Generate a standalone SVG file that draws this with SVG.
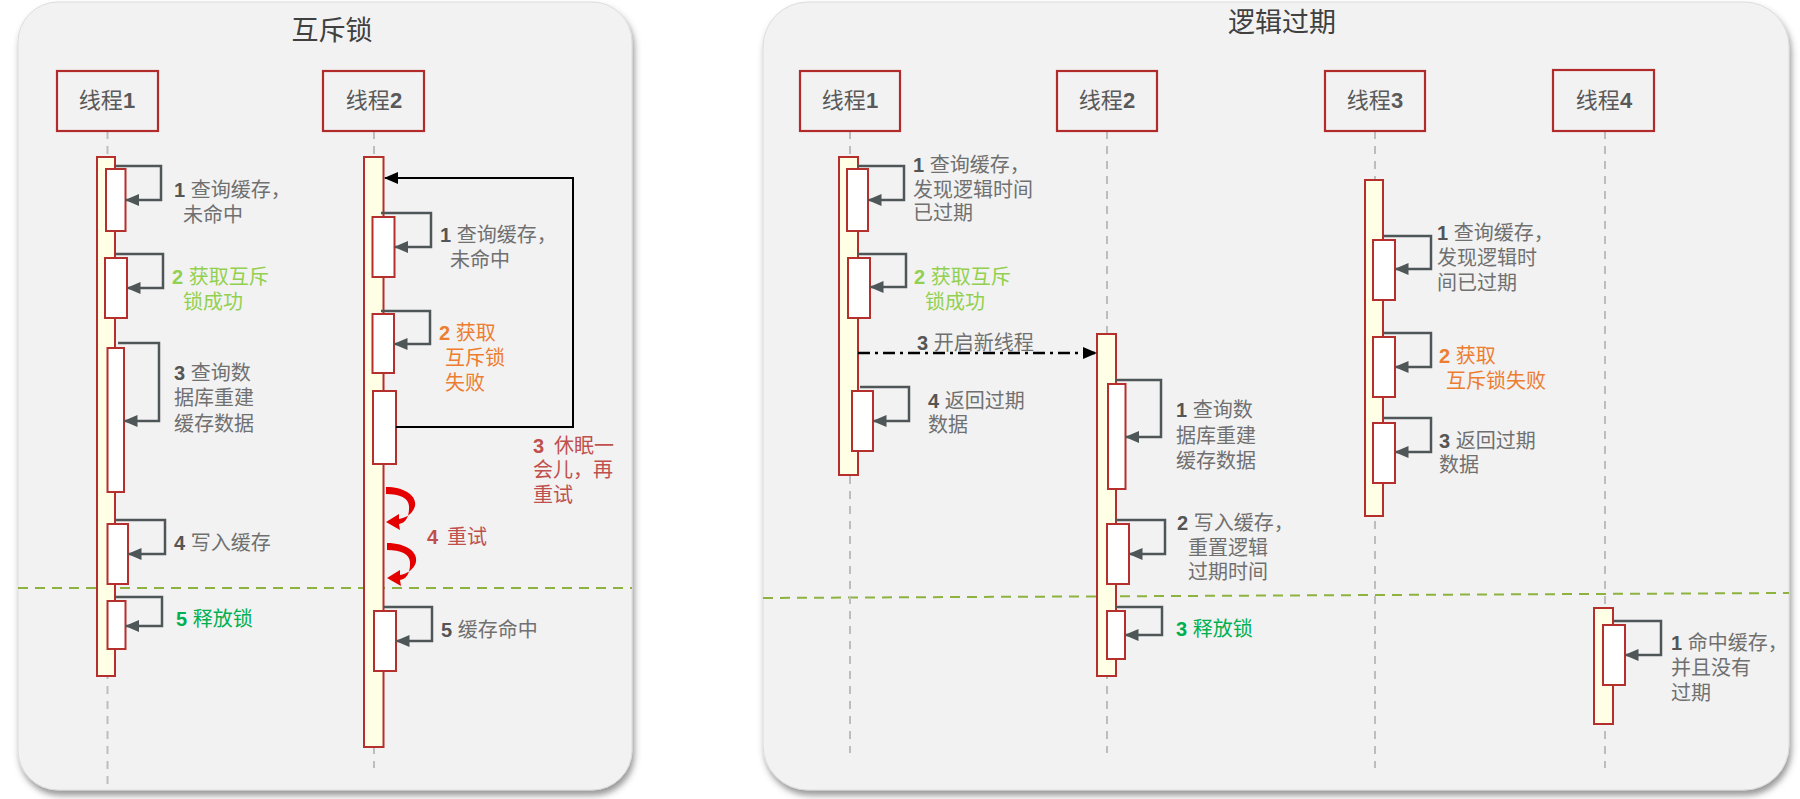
<svg xmlns="http://www.w3.org/2000/svg" width="1800" height="799" viewBox="0 0 1800 799">
<defs>
<filter id="sh" x="-5%" y="-5%" width="110%" height="110%">
<feDropShadow dx="2" dy="5" stdDeviation="3" flood-color="#444" flood-opacity="0.55"/>
</filter>
<marker id="ah" viewBox="0 0 14 14" refX="13" refY="7" markerWidth="14" markerHeight="14" markerUnits="userSpaceOnUse" orient="auto">
<path d="M0,1 L14,7 L0,13 z" fill="#4E5658"/>
</marker>
<marker id="ahk" viewBox="0 0 14 14" refX="13" refY="7" markerWidth="14" markerHeight="14" markerUnits="userSpaceOnUse" orient="auto">
<path d="M0,1 L14,7 L0,13 z" fill="#000"/>
</marker>
<path id="curl" d="M386,487 C405,487 417,496 415,506 C413,514 405,518 399,519 L399,514 L386,522 L400,530 L399,524 C407,523 409.5,514 409,506 C408.5,498 400,494 386,494 Z"/>
</defs>
<style>
.panel{fill:#F2F2F2;stroke:#DCDCDC;stroke-width:1;filter:url(#sh)}
.head{fill:none;stroke:#B22B2B;stroke-width:2.2}
.life{fill:none;stroke:#BDBDBD;stroke-width:2;stroke-dasharray:8 7}
.bar{fill:#FFFFE6;stroke:#B52F2C;stroke-width:2}
.box{fill:#FFFFFF;stroke:#B52F2C;stroke-width:2}
.loop{fill:none;stroke:#4E5658;stroke-width:2.5;marker-end:url(#ah)}
.back{fill:none;stroke:#000;stroke-width:2;marker-end:url(#ahk)}
.dd{fill:none;stroke:#000;stroke-width:2.5;stroke-dasharray:12 5 3 5;marker-end:url(#ahk)}
.sep{fill:none;stroke:#8DB33E;stroke-width:2;stroke-dasharray:10 7}
.curl{fill:#E50000}
text{font-family:"Liberation Sans","Noto Sans CJK SC",sans-serif}
.title{font-size:27px;fill:#404040;text-anchor:middle}
.hl{font-size:22px;fill:#595959;text-anchor:middle}
.t{font-size:20px;fill:#707070}
.b{font-weight:700;fill:#555}
.lg{fill:#92D050}
.lg .b{fill:#92D050}
.or{fill:#ED7D31}
.or .b{fill:#ED7D31}
.gr{fill:#00B050}
.gr .b{fill:#00B050}
.dr{fill:#C0504D}
.dr .b{fill:#C0504D}
</style>

<!-- panels -->
<g id="panel-left">
<rect class="panel" x="18" y="2" width="614" height="788" rx="40"/>
<text class="title" x="332" y="40">互斥锁</text>
</g>
<g id="panel-right">
<rect class="panel" x="763" y="2" width="1026" height="788" rx="45"/>
<text class="title" x="1282" y="32">逻辑过期</text>
</g>

<!-- separators -->
<g id="separators">
<path class="sep" d="M18,588 H632"/>
<path class="sep" d="M763,598 L1789,593"/>
</g>

<!-- lifelines -->
<g id="lifelines">
<path class="life" d="M107.5,131 V790"/>
<path class="life" d="M374,131 V768"/>
<path class="life" d="M850,131 V753"/>
<path class="life" d="M1107,131 V753"/>
<path class="life" d="M1375,131 V768"/>
<path class="life" d="M1605,131 V768"/>
</g>

<!-- left: thread 1 -->
<g id="L-thread1">
<rect class="head" x="57" y="71" width="101" height="60"/>
<text class="hl" x="107" y="108">线程<tspan font-weight="700">1</tspan></text>
<rect class="bar" x="97" y="157" width="18" height="519"/>
<rect class="box" x="106" y="169" width="19.5" height="62"/>
<rect class="box" x="105" y="258" width="22" height="60"/>
<rect class="box" x="107.5" y="348" width="16.5" height="144"/>
<rect class="box" x="107.5" y="524" width="20.5" height="60"/>
<rect class="box" x="107.5" y="601" width="18" height="48"/>
</g>

<!-- left: thread 2 -->
<g id="L-thread2">
<rect class="head" x="323" y="71" width="101" height="60"/>
<text class="hl" x="374" y="108">线程<tspan font-weight="700">2</tspan></text>
<rect class="bar" x="364" y="157" width="19.5" height="590"/>
<rect class="box" x="372.5" y="217" width="22" height="60"/>
<rect class="box" x="372.5" y="314" width="21.5" height="59"/>
<rect class="box" x="373" y="391" width="23" height="73"/>
<rect class="box" x="374" y="611" width="22" height="60"/>
</g>

<!-- right: thread 1 -->
<g id="R-thread1">
<rect class="head" x="800" y="71" width="100" height="60"/>
<text class="hl" x="850" y="108">线程<tspan font-weight="700">1</tspan></text>
<rect class="bar" x="839" y="157" width="19" height="318"/>
<rect class="box" x="847" y="169" width="21" height="62"/>
<rect class="box" x="848" y="258" width="22" height="60"/>
<rect class="box" x="852" y="391" width="21" height="60"/>
</g>

<!-- right: thread 2 -->
<g id="R-thread2">
<rect class="head" x="1057" y="71" width="100" height="60"/>
<text class="hl" x="1107" y="108">线程<tspan font-weight="700">2</tspan></text>
<rect class="bar" x="1097" y="334" width="19" height="342"/>
<rect class="box" x="1108" y="384" width="17.5" height="105"/>
<rect class="box" x="1107" y="524" width="22" height="60"/>
<rect class="box" x="1107" y="611" width="18" height="48"/>
</g>

<!-- right: thread 3 -->
<g id="R-thread3">
<rect class="head" x="1325" y="71" width="100" height="60"/>
<text class="hl" x="1375" y="108">线程<tspan font-weight="700">3</tspan></text>
<rect class="bar" x="1365" y="180" width="18" height="336"/>
<rect class="box" x="1373" y="240" width="22" height="60"/>
<rect class="box" x="1373" y="337" width="22" height="60"/>
<rect class="box" x="1373" y="423" width="22" height="60"/>
</g>

<!-- right: thread 4 -->
<g id="R-thread4">
<rect class="head" x="1553" y="70" width="101" height="61"/>
<text class="hl" x="1604" y="108">线程<tspan font-weight="700">4</tspan></text>
<rect class="bar" x="1594" y="608" width="19" height="116"/>
<rect class="box" x="1603" y="625" width="22" height="60"/>
</g>

<!-- connectors -->
<g id="connectors">
<path class="loop" d="M115,166 H161 V200 H126"/>
<path class="loop" d="M115,254 H163 V288 H127.5"/>
<path class="loop" d="M118,343 H159 V421 H124.5"/>
<path class="loop" d="M115,520 H165 V554 H128.5"/>
<path class="loop" d="M115,597 H162 V626 H126"/>
<path class="loop" d="M381,213 H431 V247 H395"/>
<path class="loop" d="M381,311 H430 V344 H394.5"/>
<path class="back" d="M396,427 H573 V178 H385"/>
<path class="loop" d="M383,607 H432 V641 H396.5"/>
<use class="curl" href="#curl"/>
<use class="curl" href="#curl" transform="translate(1,56)"/>
<path class="loop" d="M858,166 H904 V200 H868.5"/>
<path class="loop" d="M858,254 H906 V287 H870.5"/>
<path class="dd" d="M858,353 H1096"/>
<path class="loop" d="M860,387 H909 V421 H873.5"/>
<path class="loop" d="M1116,380 H1161 V437 H1126"/>
<path class="loop" d="M1116,520 H1165 V554 H1129.5"/>
<path class="loop" d="M1116,607 H1162 V635 H1125.5"/>
<path class="loop" d="M1383,236 H1431 V269 H1395.5"/>
<path class="loop" d="M1383,333 H1431 V367 H1395.5"/>
<path class="loop" d="M1383,418 H1431 V452 H1395.5"/>
<path class="loop" d="M1613,621 H1661 V655 H1625.5"/>
</g>

<!-- labels -->
<g id="labels">
<text class="t" x="174" y="197"><tspan class="b">1</tspan> 查询缓存，</text>
<text class="t" x="183" y="222">未命中</text>
<text class="t lg" x="172" y="284"><tspan class="b">2</tspan> 获取互斥</text>
<text class="t lg" x="183" y="309">锁成功</text>
<text class="t" x="174" y="380"><tspan class="b">3</tspan> 查询数</text>
<text class="t" x="174" y="405">据库重建</text>
<text class="t" x="174" y="431">缓存数据</text>
<text class="t" x="174" y="550"><tspan class="b">4</tspan> 写入缓存</text>
<text class="t gr" x="176" y="626"><tspan class="b">5</tspan> 释放锁</text>

<text class="t" x="440" y="242"><tspan class="b">1</tspan> 查询缓存，</text>
<text class="t" x="450" y="267">未命中</text>
<text class="t or" x="439" y="340"><tspan class="b">2</tspan> 获取</text>
<text class="t or" x="445" y="365">互斥锁</text>
<text class="t or" x="445" y="390">失败</text>
<text class="t dr" x="533" y="453"><tspan class="b">3</tspan><tspan x="554">休眠一</tspan></text>
<text class="t dr" x="533" y="477">会儿，再</text>
<text class="t dr" x="533" y="502">重试</text>
<text class="t dr" x="427" y="544"><tspan class="b">4</tspan><tspan x="447">重试</tspan></text>
<text class="t" x="441" y="637"><tspan class="b">5</tspan> 缓存命中</text>

<text class="t" x="913" y="172"><tspan class="b">1</tspan> 查询缓存，</text>
<text class="t" x="913" y="197">发现逻辑时间</text>
<text class="t" x="913" y="220">已过期</text>
<text class="t lg" x="914" y="284"><tspan class="b">2</tspan> 获取互斥</text>
<text class="t lg" x="925" y="309">锁成功</text>
<text class="t" x="917" y="350"><tspan class="b">3</tspan> 开启新线程</text>
<text class="t" x="928" y="408"><tspan class="b">4</tspan> 返回过期</text>
<text class="t" x="928" y="432">数据</text>

<text class="t" x="1176" y="417"><tspan class="b">1</tspan> 查询数</text>
<text class="t" x="1176" y="443">据库重建</text>
<text class="t" x="1176" y="468">缓存数据</text>
<text class="t" x="1177" y="530"><tspan class="b">2</tspan> 写入缓存，</text>
<text class="t" x="1188" y="555">重置逻辑</text>
<text class="t" x="1188" y="579">过期时间</text>
<text class="t gr" x="1176" y="636"><tspan class="b">3</tspan> 释放锁</text>

<text class="t" x="1437" y="240"><tspan class="b">1</tspan> 查询缓存，</text>
<text class="t" x="1437" y="265">发现逻辑时</text>
<text class="t" x="1437" y="290">间已过期</text>
<text class="t or" x="1439" y="363"><tspan class="b">2</tspan> 获取</text>
<text class="t or" x="1446" y="388">互斥锁失败</text>
<text class="t" x="1439" y="448"><tspan class="b">3</tspan> 返回过期</text>
<text class="t" x="1439" y="472">数据</text>

<text class="t" x="1671" y="650"><tspan class="b">1</tspan> 命中缓存，</text>
<text class="t" x="1671" y="675">并且没有</text>
<text class="t" x="1671" y="700">过期</text>
</g>
</svg>
